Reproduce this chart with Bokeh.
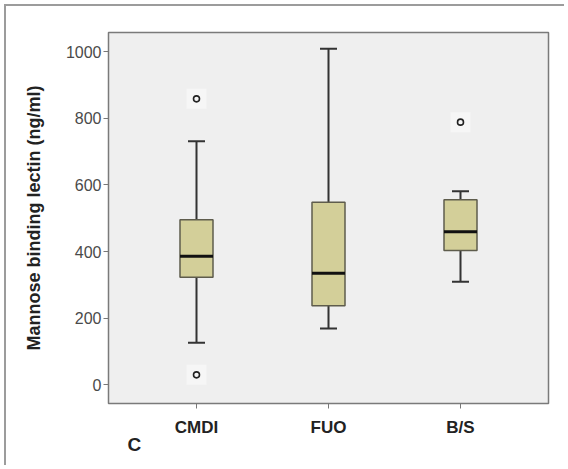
from bokeh.plotting import figure
from bokeh.models import FactorRange, Range1d, Title, FixedTicker, ColumnDataSource
from bokeh.embed import file_html
from bokeh.resources import INLINE

groups = ["CMDI", "FUO", "B/S"]
lower_whisker = [126, 169, 309]
q1 = [323, 237, 403]
median = [386, 335, 459]
q3 = [495, 548, 555]
upper_whisker = [731, 1008, 581]
outlier_group = ["CMDI", "CMDI", "B/S"]
outlier_value = [858, 30, 788]
y_ticks = [0, 200, 400, 600, 800, 1000]

src = ColumnDataSource(dict(g=groups, lw=lower_whisker, q1=q1, med=median, q3=q3, uw=upper_whisker))
osrc = ColumnDataSource(dict(g=outlier_group, v=outlier_value))

p = figure(width=560, height=461,
           x_range=FactorRange(*groups, range_padding=1/9),
           y_range=Range1d(-56, 1057),
           output_backend="svg", toolbar_location=None,
           min_border_left=102, min_border_right=18, min_border_top=26, min_border_bottom=64,
           background_fill_color="#efefef", border_fill_color="white",
           styles={"border-left": "2px solid #9c9c9c", "border-top": "2px solid #9c9c9c",
                   "margin-left": "4px", "margin-top": "4px"})

p.outline_line_color = "#7a7a7a"
p.outline_line_width = 1.5
p.grid.visible = False

# whiskers
p.segment(x0="g", y0="q3", x1="g", y1="uw", source=src, line_color="#333333", line_width=2)
p.segment(x0="g", y0="lw", x1="g", y1="q1", source=src, line_color="#333333", line_width=2)
p.scatter(x="g", y="uw", source=src, marker="dash", size=17, line_color="#333333", line_width=2)
p.scatter(x="g", y="lw", source=src, marker="dash", size=17, line_color="#333333", line_width=2)
# boxes
p.vbar(x="g", bottom="q1", top="q3", width=0.25, source=src,
       fill_color="#d3cf99", line_color="#5e5c4c", line_width=1.5)
# medians
p.scatter(x="g", y="med", source=src, marker="dash", size=33, line_color="#111111", line_width=3)
# outliers
p.scatter(x="g", y="v", source=osrc, marker="square", size=20, fill_color="#f6f6f6", line_color=None)
p.scatter(x="g", y="v", source=osrc, marker="circle", size=6, fill_color=None,
          line_color="#222222", line_width=1.6)

ya = p.yaxis[0]
ya.ticker = FixedTicker(ticks=y_ticks)
ya.minor_tick_line_color = None
ya.major_tick_out = 5
ya.major_tick_in = 0
ya.major_tick_line_color = "#777777"
ya.axis_line_color = "#7a7a7a"
ya.major_label_standoff = 2
ya.major_label_text_font = "Liberation Sans"
ya.major_label_text_font_size = "16px"
ya.major_label_text_color = "#4a4a4a"
ya.axis_label = "Mannose binding lectin (ng/ml)"
ya.axis_label_text_font = "Liberation Sans"
ya.axis_label_text_font_style = "bold"
ya.axis_label_text_font_size = "18px"
ya.axis_label_text_color = "#222222"
ya.axis_label_standoff = 19

xa = p.xaxis[0]
xa.major_tick_out = 5
xa.major_tick_in = 0
xa.major_tick_line_color = "#777777"
xa.axis_line_color = "#7a7a7a"
xa.major_label_standoff = 9
xa.major_label_text_font = "Liberation Sans"
xa.major_label_text_font_style = "bold"
xa.major_label_text_font_size = "17px"
xa.major_label_text_color = "#222222"

p.add_layout(Title(text="C", align="left", offset=19, standoff=-15, text_font="Liberation Sans",
                   text_font_style="bold", text_font_size="19px", text_color="#222222"), "below")

open("out.html", "w").write(file_html(p, INLINE))
